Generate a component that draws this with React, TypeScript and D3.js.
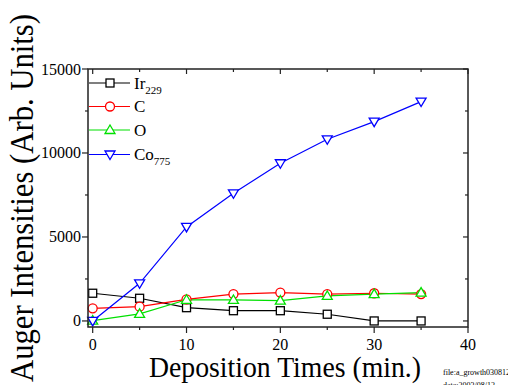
import React from "react";
import * as d3 from "d3";

const times = [0, 5, 10, 15, 20, 25, 30, 35];
const ir229 = [1650, 1350, 790, 610, 610, 400, 0, 0];
const carbon = [750, 850, 1290, 1600, 1690, 1600, 1650, 1600];
const oxygen = [20, 420, 1260, 1250, 1210, 1490, 1600, 1690];
const co775 = [0, 2240, 5600, 7600, 9390, 10815, 11865, 13060];

const xMajor = [0, 10, 20, 30, 40];
const xMinor = [5, 15, 25, 35];
const yMajor = [0, 5000, 10000, 15000];
const yMinor = [2500, 7500, 12500];

const seriesNames = ["Ir", "C", "O", "Co"];
const seriesSubs = ["229", "", "", "775"];
const seriesColors = ["#000000", "#ff0000", "#00e000", "#0000ff"];
const seriesShapes = ["square", "circle", "triangle", "invtriangle"];

const W = 508;
const H = 385;
const L = 88, R = 468, T = 69, B = 327;
const FONT = "'Liberation Serif', 'Times New Roman', Times, serif";

function Marker({ shape, x, y, color }: { shape: string; x: number; y: number; color: string }) {
  const sw = 1.3;
  if (shape === "square") {
    return <rect x={x - 4} y={y - 4} width={8} height={8} fill="white" stroke={color} strokeWidth={sw} />;
  }
  if (shape === "circle") {
    return <circle cx={x} cy={y} r={4.5} fill="white" stroke={color} strokeWidth={sw} />;
  }
  if (shape === "triangle") {
    const p = `${x - 5},${y + 3.5} ${x + 5},${y + 3.5} ${x},${y - 5}`;
    return <polygon points={p} fill="white" stroke={color} strokeWidth={sw} />;
  }
  const p = `${x - 5},${y - 3.5} ${x + 5},${y - 3.5} ${x},${y + 5}`;
  return <polygon points={p} fill="white" stroke={color} strokeWidth={sw} />;
}

export default function App() {
  const x = d3.scaleLinear().domain([-0.5, 40]).range([L, R]);
  const y = d3.scaleLinear().domain([-360, 15000]).range([B, T]);
  const allSeries = [ir229, carbon, oxygen, co775];
  const line = d3
    .line<number>()
    .x((_, i) => x(times[i]))
    .y((d) => y(d));
  const axisColor = "#222";
  const legendY = [83, 106.5, 130, 154.5];

  return (
    <svg width={W} height={H} style={{ position: "absolute", left: 0, top: 0, background: "white" }}>
      {/* series */}
      {allSeries.map((s, k) => (
        <path key={"l" + k} d={line(s) || ""} fill="none" stroke={seriesColors[k]} strokeWidth={1.2} />
      ))}
      {allSeries.map((s, k) =>
        s.map((v, i) => (
          <Marker key={`m${k}-${i}`} shape={seriesShapes[k]} x={x(times[i])} y={y(v)} color={seriesColors[k]} />
        ))
      )}
      {/* frame */}
      <rect x={L} y={T} width={R - L} height={B - T} fill="none" stroke={axisColor} strokeWidth={1.5} />
      {/* x ticks */}
      {xMajor.map((t) => (
        <g key={"xt" + t}>
          <line x1={x(t)} x2={x(t)} y1={B} y2={B + 6} stroke={axisColor} strokeWidth={1.2} />
          <line x1={x(t)} x2={x(t)} y1={T} y2={T + 5} stroke={axisColor} strokeWidth={1.2} />
          <text x={x(t)} y={350} fontSize={16} fontFamily={FONT} textAnchor="middle" fill="#000">{t}</text>
        </g>
      ))}
      {xMinor.map((t) => (
        <g key={"xm" + t}>
          <line x1={x(t)} x2={x(t)} y1={B} y2={B + 3} stroke={axisColor} strokeWidth={1.2} />
          <line x1={x(t)} x2={x(t)} y1={T} y2={T + 3} stroke={axisColor} strokeWidth={1.2} />
        </g>
      ))}
      {/* y ticks */}
      {yMajor.map((t) => (
        <g key={"yt" + t}>
          <line x1={L - 6} x2={L} y1={y(t)} y2={y(t)} stroke={axisColor} strokeWidth={1.2} />
          <line x1={R - 5} x2={R} y1={y(t)} y2={y(t)} stroke={axisColor} strokeWidth={1.2} />
          <text x={81} y={y(t) + 5.5} fontSize={16} fontFamily={FONT} textAnchor="end" fill="#000">{t}</text>
        </g>
      ))}
      {yMinor.map((t) => (
        <g key={"ym" + t}>
          <line x1={L - 3} x2={L} y1={y(t)} y2={y(t)} stroke={axisColor} strokeWidth={1.2} />
          <line x1={R - 3} x2={R} y1={y(t)} y2={y(t)} stroke={axisColor} strokeWidth={1.2} />
        </g>
      ))}
      {/* legend */}
      {seriesNames.map((n, k) => (
        <g key={"lg" + k}>
          <line x1={89} x2={130} y1={legendY[k]} y2={legendY[k]} stroke={seriesColors[k]} strokeWidth={1.2} />
          <Marker shape={seriesShapes[k]} x={110} y={legendY[k]} color={seriesColors[k]} />
          <text x={134} y={legendY[k] + 5.5} fontSize={17} fontFamily={FONT} fill="#000">
            {n}
            {seriesSubs[k] && (
              <tspan fontSize={11} dy={5}>{seriesSubs[k]}</tspan>
            )}
          </text>
        </g>
      ))}
      {/* axis titles */}
      <text
        transform={`translate(33,198) rotate(-90)`}
        textAnchor="middle"
        fontSize={33}
        fontFamily={FONT}
        textLength={368}
        lengthAdjust="spacingAndGlyphs"
        fill="#000"
      >
        Auger Intensities (Arb. Units)
      </text>
      <text x={285} y={377} textAnchor="middle" fontSize={29} fontFamily={FONT} textLength={272} lengthAdjust="spacingAndGlyphs" fill="#000">
        Deposition Times (min.)
      </text>
      {/* file note */}
      <text x={443} y={375} fontSize={8} fontFamily={FONT} fill="#000">file:a_growth030812</text>
      <text x={443} y={388} fontSize={8} fontFamily={FONT} fill="#000">date:2003/08/12</text>
    </svg>
  );
}
